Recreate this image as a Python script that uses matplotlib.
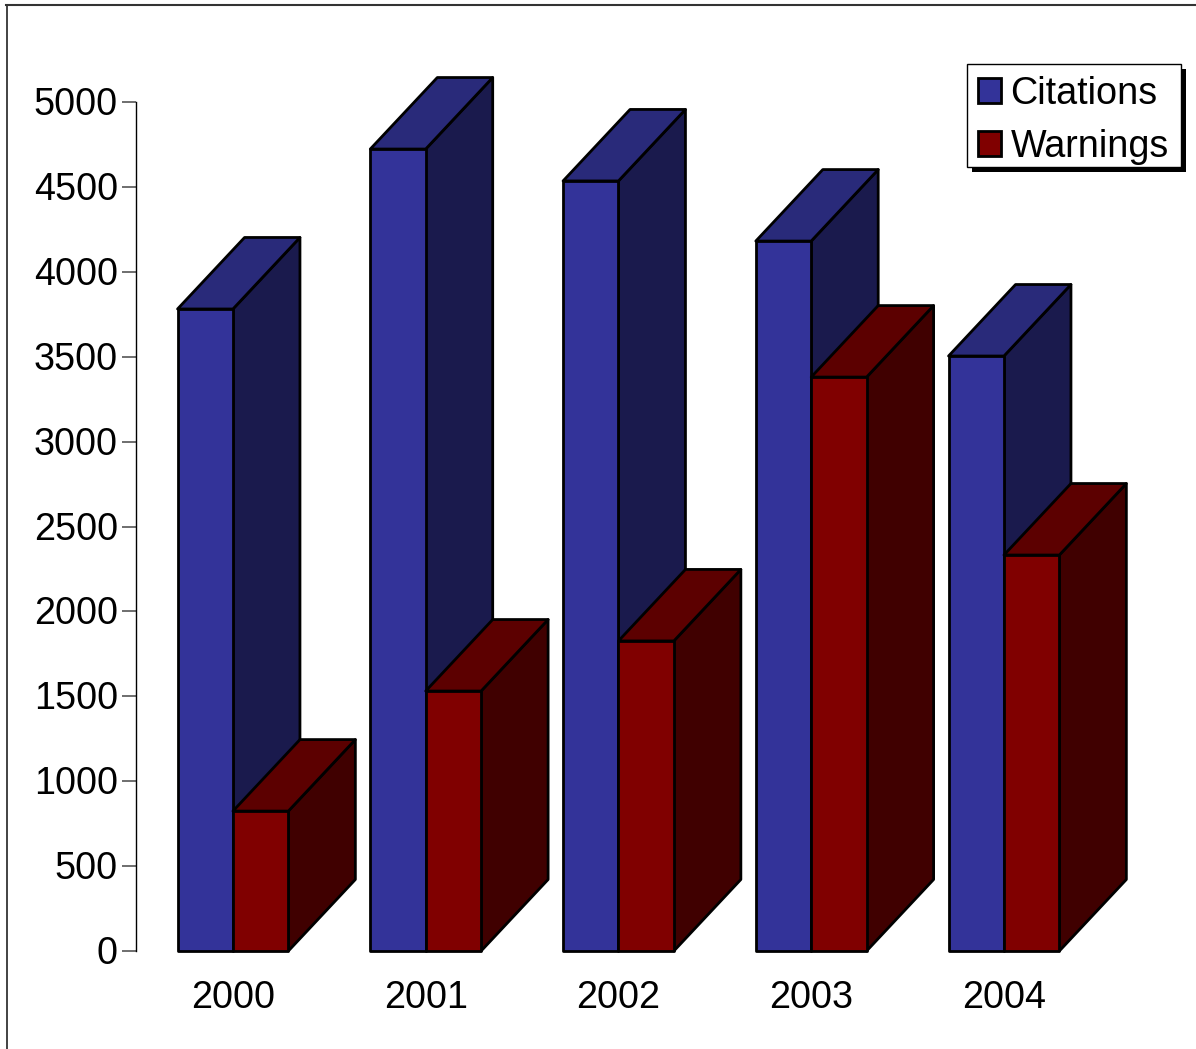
import numpy as np
import matplotlib
matplotlib.use('Agg')
import matplotlib.pyplot as plt
from matplotlib.patches import Polygon, Patch, Rectangle
from matplotlib.lines import Line2D
from matplotlib.transforms import ScaledTranslation

W, H = 1196, 1049

years = ['2000', '2001', '2002', '2003', '2004']
citations = [3781, 4723, 4535, 4181, 3504]
warnings = [824, 1531, 1826, 3380, 2332]

blue = ('#333399', '#292a7a', '#1a1a4d')
red = ('#800000', '#5c0000', '#400000')

plt.rcParams['font.family'] = ['Liberation Sans', 'DejaVu Sans']

fig = plt.figure(figsize=(W/100, H/100), dpi=100)
group = 192.75
ax = fig.add_axes([136/W, 1 - 951/H, group*5/W, 849/H])
ax.set_xlim(-0.503, 4.497)
ax.set_ylim(0, 5000)

bar_w = 55.4/group
# depth of the fake 3d extrusion, in data units
dx = 67/group
dy = 71.5/849*5000


def bar3d(x, h, cols):
    # side and top go first, front face is a normal bar
    ec = dict(edgecolor='black', linewidth=2, joinstyle='round', clip_on=False)
    ax.add_patch(Polygon([(x + bar_w, 0), (x + bar_w + dx, dy), (x + bar_w + dx, h + dy), (x + bar_w, h)],
                         facecolor=cols[2], **ec))
    ax.add_patch(Polygon([(x, h), (x + dx, h + dy), (x + bar_w + dx, h + dy), (x + bar_w, h)],
                         facecolor=cols[1], **ec))
    ax.bar(x, h, bar_w, align='edge', color=cols[0], **ec)


for i in range(len(years)):
    bar3d(i - bar_w, citations[i], blue)
    bar3d(i, warnings[i], red)

for s in ['top', 'right', 'bottom']:
    ax.spines[s].set_visible(False)
ax.spines['left'].set_linewidth(1.0)
ax.spines['left'].set_color('black')

ax.set_yticks(np.arange(0, 5001, 500))
ax.set_xticks(range(len(years)))
ax.set_xticklabels(years)
ax.tick_params(axis='y', length=10, width=1.2, color='#555555', labelsize=27.2, pad=3)
ax.tick_params(axis='x', length=0, labelsize=27.2, pad=20.6)

# nudge y labels up a pixel
nudge = ScaledTranslation(0, 1/100, fig.dpi_scale_trans)
for lab in ax.get_yticklabels():
    lab.set_transform(lab.get_transform() + nudge)

# legend box and its hard shadow
fig.add_artist(Rectangle((972/W, 1 - 172/H), 214/W, 103.5/H, facecolor='black', edgecolor='none',
                         transform=fig.transFigure, zorder=2))
fig.add_artist(Rectangle((967/W, 1 - 167/H), 214/W, 103.5/H, facecolor='white', edgecolor='black',
                         linewidth=1.0, transform=fig.transFigure, zorder=3))

handles = [Patch(facecolor=blue[0], edgecolor='black', linewidth=2),
           Patch(facecolor=red[0], edgecolor='black', linewidth=2)]
leg = fig.legend(handles, ['Citations', 'Warnings'], loc='upper left',
                 bbox_to_anchor=(978/W, 1 - 76/H), fontsize=27.2, frameon=False,
                 borderaxespad=0, borderpad=0, labelspacing=0.44,
                 handlelength=0.62, handleheight=0.65, handletextpad=0.24)
leg.set_zorder(4)

# page frame, only top and left edges show
fig.add_artist(Line2D([6.5/W, 6.5/W], [0, 1 - 5/H], color='#222222', linewidth=1.2))
fig.add_artist(Line2D([6/W, 1], [1 - 5/H, 1 - 5/H], color='#333333', linewidth=1.5))

fig.savefig('out.png', dpi=100)
